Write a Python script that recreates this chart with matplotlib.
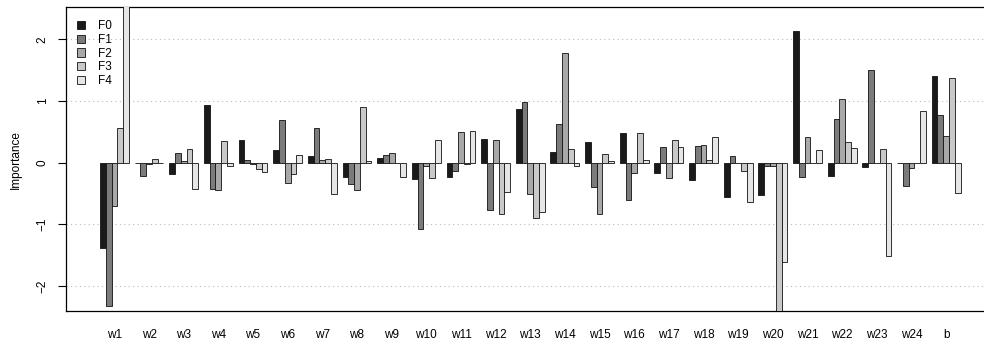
import matplotlib
matplotlib.use("Agg")
import matplotlib.pyplot as plt
import numpy as np

plt.rcParams["font.family"] = ["Liberation Sans", "DejaVu Sans"]

# inputs (weights + bias) and per-output importance
features = [f"w{i}" for i in range(1, 25)] + ["b"]
series_names = ["F0", "F1", "F2", "F3", "F4"]

f0 = [-1.38, 0.00, -0.18, 0.93, 0.36, 0.21, 0.10, -0.23, 0.08, -0.26,
      -0.23, 0.39, 0.87, 0.18, 0.33, 0.48, -0.16, -0.28, -0.55, -0.53,
      2.14, -0.22, -0.065, 0.00, 1.41]
f1 = [-2.33, -0.21, 0.15, -0.43, 0.04, 0.69, 0.56, -0.35, 0.12, -1.08,
      -0.14, -0.77, 0.98, 0.63, -0.40, -0.61, 0.26, 0.265, 0.10, -0.05,
      -0.24, 0.71, 1.51, -0.38, 0.78]
f2 = [-0.71, -0.02, 0.02, -0.44, -0.03, -0.33, 0.05, -0.44, 0.15, -0.05,
      0.50, 0.37, -0.51, 1.77, -0.84, -0.17, -0.25, 0.28, -0.01, -0.05,
      0.42, 1.04, -0.01, -0.09, 0.43]
f3 = [0.56, 0.06, 0.22, 0.35, -0.10, -0.19, 0.06, 0.90, 0.00, -0.25,
      -0.03, -0.83, -0.89, 0.22, 0.135, 0.48, 0.36, 0.04, -0.14, -2.60,
      0.00, 0.33, 0.22, -0.01, 1.37]
f4 = [3.00, 0.00, -0.43, -0.05, -0.15, 0.12, -0.51, 0.03, -0.24, 0.37,
      0.52, -0.48, -0.80, -0.06, 0.02, 0.05, 0.25, 0.41, -0.64, -1.61,
      0.20, 0.24, -1.52, 0.84, -0.50]

colors = ["#1a1a1a", "#7b7b7b", "#a8a8a8", "#c9c9c9", "#e6e6e6"]

fig = plt.figure(figsize=(9.84, 3.44), dpi=100)
ax = fig.add_axes([0.0666, 0.096, 0.9446, 0.883])

n_groups = len(features)
n_series = len(series_names)
group_start = 1 + (n_series + 1) * np.arange(n_groups)

handles = []
for s, (vals, col) in enumerate(zip([f0, f1, f2, f3, f4], colors)):
    h = ax.bar(group_start + s, vals, width=1.0, align="edge", color=col,
               edgecolor="#111111", linewidth=0.6, zorder=3,
               label=series_names[s])
    handles.append(h)

for y in [-2, -1, 1, 2]:
    ax.axhline(y, color="#bbbbbb", linestyle=(0, (1, 3)), linewidth=0.8,
               zorder=1)

ax.set_xlim(-4.96, 155.96)
ax.set_ylim(-2.405, 2.52)

ax.set_xticks(group_start + n_series / 2)
ax.set_xticklabels(features)
ax.tick_params(axis="x", length=0, pad=13, labelsize=8.5)

ax.set_yticks([-2, -1, 0, 1, 2])
ax.set_yticklabels(["\u22122", "\u22121", "0", "1", "2"], rotation=90,
                   va="center")
ax.tick_params(axis="y", length=6, width=0.8, pad=6, labelsize=8.5)

ax.set_ylabel("Importance", fontsize=8.5)
ax.yaxis.set_label_coords(-0.047, 0.5)

for side in ["left", "top", "bottom", "right"]:
    ax.spines[side].set_linewidth(0.9)

ax.legend(handles=handles, loc="upper left", bbox_to_anchor=(0.003, 0.985),
          frameon=False, fontsize=8.5, handlelength=0.7, handleheight=0.7,
          handletextpad=1.1, labelspacing=0.15, borderaxespad=0.3)

fig.savefig("out.png", dpi=100)
